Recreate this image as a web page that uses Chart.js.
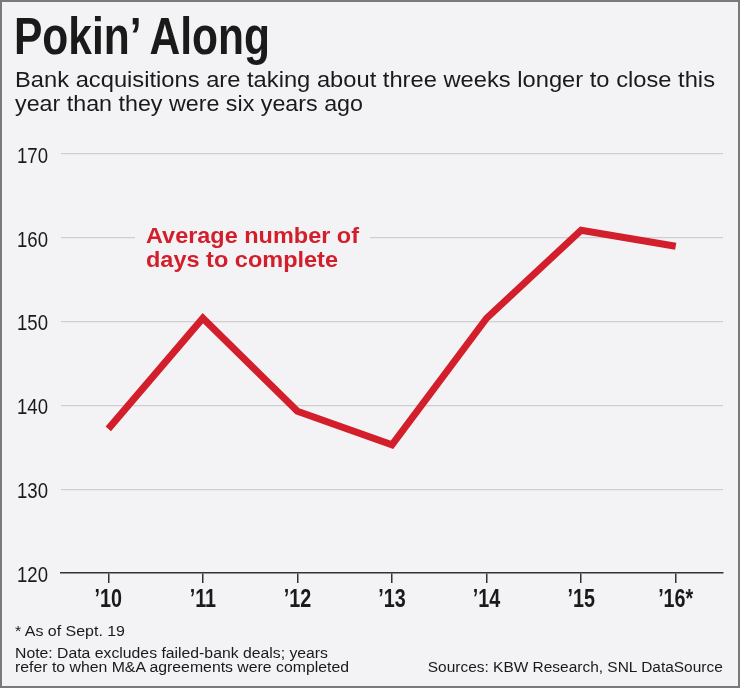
<!DOCTYPE html>
<html>
<head>
<meta charset="utf-8">
<script src="https://cdn.jsdelivr.net/npm/chart.js@4"></script>
<style>
  html, body { margin: 0; padding: 0; }
  body { width: 740px; height: 688px; background: #f3f3f5; position: relative; overflow: hidden;
         font-family: "Liberation Sans", Arial, sans-serif; color: #1a1a1a; }
  .frame { position: absolute; left: 0; top: 0; width: 736px; height: 684px; border: 2px solid #7a7a7a; }
  canvas { position: absolute; left: 0; top: 0; }
  .txt { position: absolute; white-space: nowrap; transform-origin: left top; }
  #title { left: 14px; top: 7px; font-size: 51px; font-weight: bold; }
  #sub1 { left: 15px; top: 67.5px; font-size: 21.5px; }
  #sub2 { left: 15px; top: 91.5px; font-size: 21.5px; }
  #note1 { left: 15px; top: 621.5px; font-size: 15.5px; }
  #note2 { left: 15px; top: 644.3px; font-size: 15.5px; }
  #note3 { left: 15px; top: 658px; font-size: 15.5px; }
  #src { right: 17px; top: 658px; font-size: 15.5px; transform-origin: right top; }
  #fondo { position: absolute; left: 135px; top: 230px; width: 235px; height: 14px; background: #f3f3f5; }
  #lbl1, #lbl2 { left: 146px; color: #d21f2b; font-weight: bold; font-size: 22.4px; line-height: 22px; }
  #lbl1 { top: 225px; }
  #lbl2 { top: 248.5px; }
</style>
</head>
<body>
<canvas id="grafico" width="740" height="688"></canvas>
<div class="frame"></div>
<div id="fondo"></div>
<div class="txt" id="title" data-w="256">Pokin’ Along</div>
<div class="txt" id="sub1" data-w="700">Bank acquisitions are taking about three weeks longer to close this</div>
<div class="txt" id="sub2" data-w="348">year than they were six years ago</div>
<div class="txt" id="lbl1" data-w="213">Average number of</div>
<div class="txt" id="lbl2" data-w="192">days to complete</div>
<div class="txt" id="note1" data-w="110">* As of Sept. 19</div>
<div class="txt" id="note2" data-w="313">Note: Data excludes failed-bank deals; years</div>
<div class="txt" id="note3" data-w="334">refer to when M&amp;A agreements were completed</div>
<div class="txt" id="src" data-w="295">Sources: KBW Research, SNL DataSource</div>
<script>
const anios = ["’10", "’11", "’12", "’13", "’14", "’15", "’16*"];
const dias = [137.2, 150.4, 139.3, 135.3, 150.4, 160.9, 159.0];
const marcasY = [120, 130, 140, 150, 160, 170];

// estrechar los textos para imitar la fuente condensada
document.querySelectorAll('.txt[data-w]').forEach(el => {
  const w = el.getBoundingClientRect().width;
  el.style.transform = `scaleX(${Number(el.dataset.w) / w})`;
});

// etiquetas de los ejes dibujadas estrechas
const etiquetasEstrechas = {
  id: 'etiquetasEstrechas',
  afterDraw(chart) {
    const ctx = chart.ctx;
    const sx = chart.scales.x, sy = chart.scales.y;
    ctx.save();
    ctx.fillStyle = '#1a1a1a';
    ctx.textBaseline = 'alphabetic';

    ctx.font = '22px "Liberation Sans", Arial, sans-serif';
    ctx.textAlign = 'right';
    sy.ticks.forEach(t => {
      const y = sy.getPixelForValue(t.value);
      ctx.save();
      ctx.translate(48, y + 8.7);
      ctx.scale(0.845, 1);
      ctx.fillText(String(t.value), 0, 0);
      ctx.restore();
    });

    ctx.font = 'bold 26px "Liberation Sans", Arial, sans-serif';
    ctx.textAlign = 'center';
    sx.ticks.forEach((t, i) => {
      const x = sx.getPixelForTick(i);
      ctx.save();
      ctx.translate(x, 606.5);
      ctx.scale(0.76, 1);
      ctx.fillText(sx.getLabelForValue(t.value), 0, 0);
      ctx.restore();
    });
    ctx.restore();
  }
};

new Chart(document.getElementById('grafico'), {
  type: 'line',
  data: {
    labels: anios,
    datasets: [{
      data: dias,
      borderColor: '#d21f2b',
      borderWidth: 7,
      pointRadius: 0,
      tension: 0,
      borderJoinStyle: 'miter',
      borderCapStyle: 'butt'
    }]
  },
  plugins: [etiquetasEstrechas],
  options: {
    responsive: false,
    animation: false,
    devicePixelRatio: 1,
    layout: { padding: { top: 154, right: 17, bottom: 70, left: 0 } },
    plugins: { legend: { display: false }, tooltip: { enabled: false } },
    scales: {
      x: {
        offset: true,
        grid: { offset: false, drawOnChartArea: false, color: '#333', lineWidth: 1.5, tickLength: 10 },
        border: { color: '#333', width: 1.5 },
        ticks: { color: 'rgba(0,0,0,0)', font: { size: 22 }, maxRotation: 0 },
        afterFit: s => { s.height = 45; }
      },
      y: {
        min: 120,
        max: 170,
        afterBuildTicks: s => { s.ticks = marcasY.map(v => ({ value: v })); },
        grid: { color: ctx => ctx.tick.value === 120 ? 'rgba(0,0,0,0)' : '#cfcfd2', lineWidth: 1.2, drawTicks: false },
        border: { display: false },
        ticks: { color: 'rgba(0,0,0,0)', font: { size: 21 } },
        afterFit: s => { s.width = 61; }
      }
    }
  }
});
</script>
</body>
</html>
